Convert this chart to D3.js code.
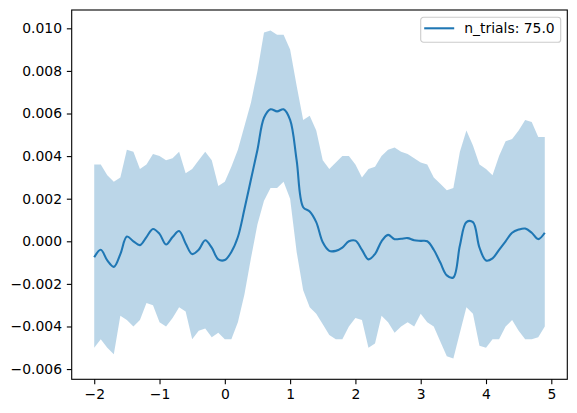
<!DOCTYPE html>
<html>
<head>
<meta charset="utf-8">
<script src="https://cdn.jsdelivr.net/npm/d3@7"></script>
<style>
  body { margin: 0; background: #fff; }
  svg text { font-family: "DejaVu Sans", sans-serif; }
</style>
</head>
<body>
<div id="chart"></div>
<script>
// time points, step 0.1 from -2 to 4.9
var times = d3.range(70).map(function (i) { return Math.round((-2 + i * 0.1) * 10) / 10 });

var meanVals = [
  -0.00075, -0.0004, -0.0009, -0.0012, -0.0006, 0.00022, 0.0000, -0.00018, 0.0002, 0.00058,
  0.00035, -0.00015, 0.0002, 0.00048, -0.0001, -0.0006, -0.0004, 0.00005, -0.0003, -0.00085,
  -0.00088, -0.0005, 0.0002, 0.0015, 0.0029, 0.0043, 0.0058, 0.0062, 0.0061, 0.0062,
  0.0057, 0.0038, 0.0016, 0.0014, 0.0009, -0.00005, -0.00045, -0.00045, -0.0003, 0.0000,
  0.00003, -0.0004, -0.00085, -0.0006, 0.0000, 0.0003, 0.0001, 0.00012, 0.00015, 0.00005,
  0.00002, 0.0000, -0.0004, -0.001, -0.0016, -0.0017, -0.0002, 0.0009, 0.0009, -0.0003,
  -0.0009, -0.0008, -0.0004, 0.0000, 0.0004, 0.00055, 0.0006, 0.0004, 0.0001, 0.0004
];

var upperVals = [
  0.0036, 0.0036, 0.0031, 0.0028, 0.0030, 0.0043, 0.0042, 0.0034, 0.0036, 0.0041,
  0.0040, 0.0038, 0.0039, 0.0042, 0.0032, 0.0034, 0.0038, 0.0042, 0.0038, 0.0026,
  0.0028, 0.0035, 0.0043, 0.0054, 0.0065, 0.0080, 0.0098, 0.0099, 0.0097, 0.0097,
  0.0090, 0.0073, 0.0057, 0.0059, 0.0052, 0.0038, 0.0034, 0.0037, 0.0040, 0.0040,
  0.0036, 0.0030, 0.0034, 0.0035, 0.0040, 0.0043, 0.0044, 0.0042, 0.0041, 0.0039,
  0.0037, 0.0036, 0.0030, 0.0027, 0.0024, 0.0025, 0.0042, 0.0052, 0.0045, 0.0036,
  0.0034, 0.0031, 0.0040, 0.0047, 0.0048, 0.0052, 0.0057, 0.0056, 0.0049, 0.0049
];

var lowerVals = [
  -0.0050, -0.0046, -0.0050, -0.0053, -0.0035, -0.0037, -0.0040, -0.0037, -0.0029, -0.0030,
  -0.0038, -0.0040, -0.0036, -0.0031, -0.0033, -0.0046, -0.0042, -0.0041, -0.0045, -0.0043,
  -0.0046, -0.0046, -0.0038, -0.0025, -0.0008, 0.0008, 0.0019, 0.0025, 0.0025, 0.0028,
  0.0020, -0.0005, -0.0023, -0.0031, -0.0034, -0.0039, -0.0044, -0.0046, -0.0046, -0.0040,
  -0.0036, -0.0037, -0.0050, -0.0048, -0.0035, -0.0038, -0.0043, -0.0040, -0.0038, -0.0040,
  -0.0034, -0.0038, -0.0040, -0.0047, -0.0054, -0.0055, -0.0043, -0.0031, -0.0034, -0.0049,
  -0.0050, -0.0046, -0.0046, -0.0040, -0.0037, -0.0042, -0.0046, -0.0046, -0.0045, -0.0040
];

var xTicks = [-2, -1, 0, 1, 2, 3, 4, 5];
var yTicks = [-0.006, -0.004, -0.002, 0, 0.002, 0.004, 0.006, 0.008, 0.010];
var legendLabel = "n_trials: 75.0";

var width = 577, height = 413;
var margin = { left: 71.7, top: 10, right: 577 - 567.3, bottom: 413 - 379.3 };
var color = "#1f77b4";
var fontSize = "13.9px";

var svg = d3.select("#chart").append("svg")
    .attr("width", width)
    .attr("height", height)

var x = d3.scaleLinear().domain([-2.345, 5.245]).range([margin.left, width - margin.right])
var y = d3.scaleLinear().domain([-0.00648, 0.01086]).range([height - margin.bottom, margin.top])

var rows = times.map(function (t, i) { return { t: t, m: meanVals[i], lo: lowerVals[i], hi: upperVals[i] } })

// shaded band
svg.append("path")
    .datum(rows)
    .attr("fill", color)
    .attr("fill-opacity", 0.3)
    .attr("d", d3.area().x(d => x(d.t)).y0(d => y(d.lo)).y1(d => y(d.hi)))

// mean line
svg.append("path")
    .datum(rows)
    .attr("fill", "none")
    .attr("stroke", color)
    .attr("stroke-width", 2.08)
    .attr("stroke-linejoin", "round")
    .attr("d", d3.line().curve(d3.curveCatmullRom).x(d => x(d.t)).y(d => y(d.m)))

// axes
svg.append("g")
    .attr("transform", "translate(0," + (height - margin.bottom) + ")")
    .call(d3.axisBottom(x).tickValues(xTicks).tickSize(4.86).tickPadding(4.86)
        .tickFormat(d3.format("d")))
svg.append("g")
    .attr("transform", "translate(" + margin.left + ",0)")
    .call(d3.axisLeft(y).tickValues(yTicks).tickSize(4.86).tickPadding(4.86)
        .tickFormat(d3.format(".3f")))

svg.selectAll(".domain").remove()
svg.selectAll(".tick line").attr("stroke", "#000").attr("stroke-width", 1.1)
svg.selectAll(".tick text")
    .attr("fill", "#000")
    .style("font-size", fontSize)
    .style("font-family", "DejaVu Sans")

// frame
svg.append("rect")
    .attr("x", margin.left)
    .attr("y", margin.top)
    .attr("width", width - margin.left - margin.right)
    .attr("height", height - margin.top - margin.bottom)
    .attr("fill", "none")
    .attr("stroke", "#000")
    .attr("stroke-width", 1.1)

// legend
var lg = svg.append("g").attr("transform", "translate(420.7,17.3)")
lg.append("rect")
    .attr("width", 140)
    .attr("height", 25)
    .attr("rx", 2.8)
    .attr("fill", "#fff")
    .attr("fill-opacity", 0.8)
    .attr("stroke", "#cccccc")
    .attr("stroke-width", 1.1)
lg.append("line")
    .attr("x1", 3.5).attr("x2", 33.5)
    .attr("y1", 11).attr("y2", 11)
    .attr("stroke", color)
    .attr("stroke-width", 2.08)
lg.append("text")
    .attr("x", 43.6)
    .attr("y", 16)
    .style("font-size", fontSize)
    .attr("fill", "#000")
    .text(legendLabel)
</script>
</body>
</html>
